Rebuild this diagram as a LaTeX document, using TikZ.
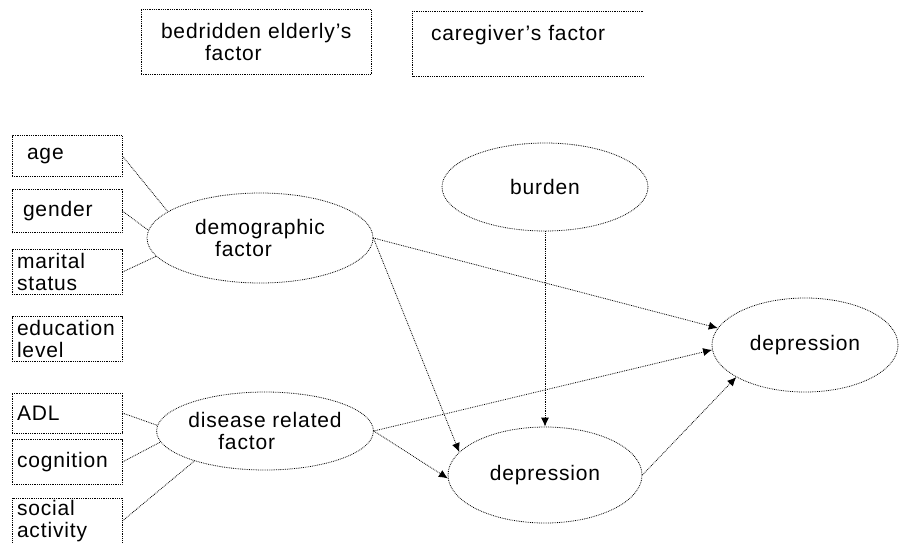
\documentclass[tikz,border=0pt]{standalone}
\usepackage{fontspec}
\setmainfont{Liberation Sans}[LetterSpace=4]
\usetikzlibrary{arrows.meta,shapes.geometric}

\begin{document}
\begin{tikzpicture}[x=1pt,y=-1pt,
    font=\fontsize{21}{22}\selectfont,
    varbox/.style={draw,densely dotted,line width=0.8pt,rectangle,minimum width=110pt,
      text width=100pt,inner xsep=5pt,inner ysep=1pt,align=left},
    topbox/.style={rectangle,text width=210pt,inner xsep=10pt,minimum height=65pt,align=left},
    latent/.style={draw,densely dotted,line width=0.8pt,ellipse,inner sep=0pt,align=left},
    link/.style={densely dotted,line width=0.8pt},
    path/.style={densely dotted,line width=0.8pt,-{Latex[length=9pt,width=8pt]}}]
  \useasboundingbox (0,0) rectangle (899,542);

  % legend boxes
  \node[topbox,draw,densely dotted,line width=0.8pt] (elder) at (256,42)
    {\hspace*{10pt}bedridden elderly's\\\hspace*{54pt}factor};
  \node[topbox] (care) at (528,44) {\hspace*{8pt}caregiver's factor\\\mbox{}};
  \draw[link] (care.north east) -- (care.north west) -- (care.south west) -- (care.south east);

  % observed variables
  \node[varbox,minimum height=41pt] (age) at (67,156) {\hspace*{10pt}age};
  \node[varbox,minimum height=43pt] (gender) at (67,211) {\hspace*{6pt}gender};
  \node[varbox,minimum height=45pt] (marital) at (67,272) {marital\\status};
  \node[varbox,minimum height=45pt] (edu) at (67,339) {education\\level};
  \node[varbox,minimum height=40pt] (adl) at (67,413) {ADL};
  \node[varbox,minimum height=45pt] (cog) at (67,462) {cognition};
  \node[varbox,minimum height=46pt] (social) at (67,521) {social\\activity};

  % latent factors
  \node[latent,minimum width=226pt,minimum height=90pt] (demo) at (260,238)
    {demographic\\\hspace*{20pt}factor};
  \node[latent,minimum width=210pt,minimum height=78pt] (disease) at (265,431)
    {disease related\\\hspace*{30pt}factor};
  \node[latent,minimum width=206pt,minimum height=88pt] (burden) at (545,187) {burden};
  \node[latent,minimum width=194pt,minimum height=96pt] (depB) at (545,475) {depression};
  \node[latent,minimum width=186pt,minimum height=94pt] (depR) at (805,345) {depression};

  \draw[link] (age.east) -- (demo.164);
  \draw[link] (gender.east) -- (demo.176);
  \draw[link] (marital.east) -- (demo.190);
  \draw[link] (adl.east) -- (disease.177);
  \draw[link] (cog.east) -- (disease.186);
  \draw[link] (social.east) -- (disease.203);

  \draw[path] (demo.east) -- (depR.169);
  \draw[path] (demo.east) -- (depB.165);
  \draw[path] (disease.east) -- (depR.183);
  \draw[path] (disease.east) -- (depB.182);
  \draw[path] (burden.south) -- (depB.north);
  \draw[path] (depB.east) -- (depR.205);
\end{tikzpicture}
\end{document}
